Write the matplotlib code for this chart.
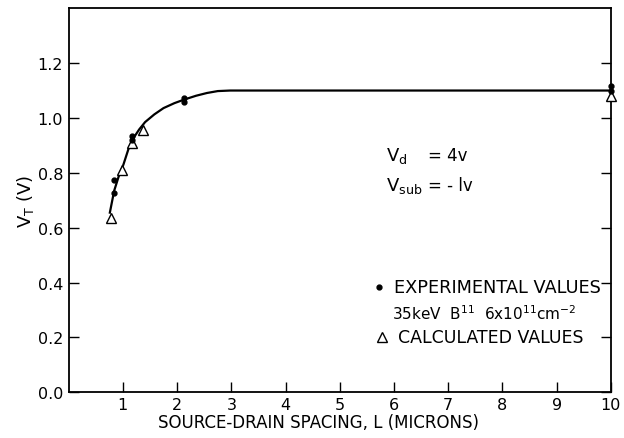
import matplotlib.pyplot as plt
import numpy as np

# experimental values (dots)
exp_x = [0.84, 0.84, 1.17, 1.17, 2.13, 2.13, 10.0, 10.0]
exp_y = [0.773, 0.726, 0.936, 0.921, 1.073, 1.057, 1.115, 1.100]

# calculated values (triangles)
calc_x = [0.79, 0.99, 1.17, 1.38, 10.0]
calc_y = [0.636, 0.812, 0.909, 0.957, 1.079]

# hand-drawn fit curve
curve_x = [0.76, 0.84, 0.92, 1.01, 1.10, 1.19, 1.30, 1.41, 1.58, 1.75, 1.95, 2.13, 2.35, 2.55, 2.75, 2.98, 10.0]
curve_y = [0.655, 0.735, 0.785, 0.830, 0.885, 0.925, 0.958, 0.985, 1.013, 1.036, 1.054, 1.067, 1.081, 1.091, 1.098, 1.100, 1.100]

xticks = [1, 2, 3, 4, 5, 6, 7, 8, 9, 10]
yticks = [0.0, 0.2, 0.4, 0.6, 0.8, 1.0, 1.2]

plt.rcParams['font.family'] = 'DejaVu Sans'

fig = plt.figure(figsize=(6.24, 4.39), dpi=100)
ax = fig.add_axes([0.110, 0.104, 0.869, 0.875])

ax.plot(curve_x, curve_y, color='black', lw=1.6)
ax.plot(exp_x, exp_y, 'o', color='black', ms=3.5, clip_on=False, zorder=4)
ax.plot(calc_x, calc_y, '^', mfc='white', mec='black', mew=1.0, ms=7.5, clip_on=False, zorder=3)

ax.set_xlim(0, 10)
ax.set_ylim(0, 1.40)
ax.set_xticks(xticks)
ax.set_xticklabels([str(t) for t in xticks], fontsize=11.5)
ax.set_yticks(yticks)
ax.set_yticklabels([f"{t:.1f}" for t in yticks], fontsize=11.5)
ax.tick_params(direction='in', length=7, width=1, right=True, top=False)
ax.tick_params(axis='x', pad=3)
ax.tick_params(axis='y', pad=4)
for s in ax.spines.values():
    s.set_linewidth(1.3)

ax.set_xlabel("SOURCE-DRAIN SPACING, L (MICRONS)", fontsize=12)
ax.xaxis.set_label_coords(0.46, -0.055)
ax.set_ylabel(r"V$_\mathregular{T}$ (V)", fontsize=13, labelpad=1)

ax.text(5.85, 0.865, r"V$_\mathregular{d}$", fontsize=13, va='center')
ax.text(6.63, 0.865, "= 4v", fontsize=12, va='center')
ax.text(5.85, 0.755, r"V$_\mathregular{sub}$", fontsize=13, va='center')
ax.text(6.63, 0.755, "= - lv", fontsize=12, va='center')

ax.plot([5.72], [0.384], 'o', color='black', ms=3.5)
ax.text(6.0, 0.384, "EXPERIMENTAL VALUES", fontsize=12.8, va='center')
ax.text(5.97, 0.289, r"35keV  B$^{11}$  6x10$^{11}$cm$^{-2}$", fontsize=11, va='center')
ax.plot([5.78], [0.202], '^', mfc='white', mec='black', mew=1.0, ms=6.5)
ax.text(6.08, 0.202, "CALCULATED VALUES", fontsize=12.5, va='center')

fig.savefig("out.png", dpi=100)
